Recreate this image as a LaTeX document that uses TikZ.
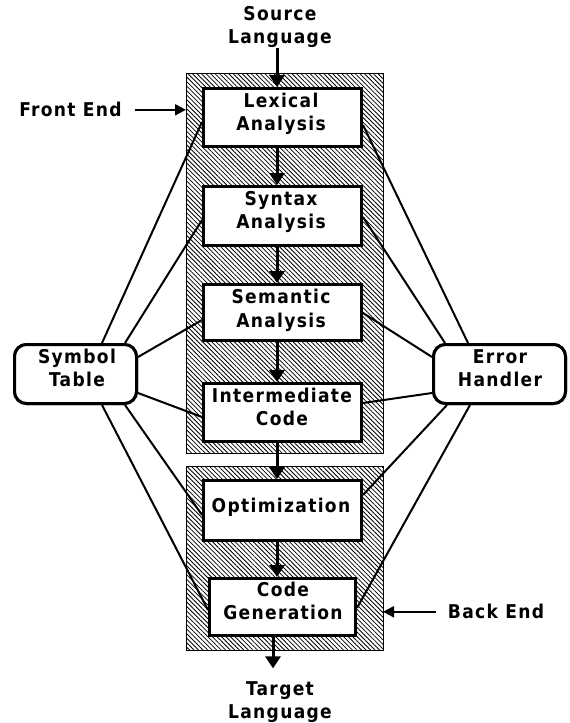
\documentclass[tikz,border=0pt]{standalone}
\usepackage{fontspec}
\newfontfamily\chicfont{DejaVu Sans Condensed}[LetterSpace=7]
\usetikzlibrary{arrows.meta,patterns.meta,calc}
\begin{document}
\begin{tikzpicture}[x=1pt,y=-1pt,
  lbl/.style={font=\chicfont\bfseries\fontsize{19}{23.5}\selectfont, align=center, inner sep=0pt},
  frame/.style={draw=black, line width=1pt, inner sep=0pt, outer sep=0pt,
    pattern={Lines[angle=-45,distance=3.2pt,line width=0.8pt]}},
  stage/.style={draw=black, line width=3pt, fill=white, inner sep=0pt, minimum width=158pt},
  tablebox/.style={draw=black, line width=3pt, fill=white, inner sep=0pt, rounded corners=12pt, minimum height=59pt},
  link/.style={draw=black, line width=2pt},
  flow/.style={draw=black, line width=3pt, -{Triangle[length=12pt,width=15pt]}},
  pointer/.style={draw=black, line width=2pt, -{Triangle[length=11pt,width=11pt]}}
]
\useasboundingbox (0,0) rectangle (570,723);
\fill[white] (0,0) rectangle (570,723);

% shaded phases
\node[frame, minimum width=197pt, minimum height=380pt] (fe) at (284.5,263) {};
\node[frame, minimum width=197pt, minimum height=184pt] (be) at (284.5,558) {};

% stage boxes
\node[stage, minimum height=58pt] (lex) at (282.5,117.5) {};
\node[stage, minimum height=59pt] (syn) at (282.5,216) {};
\node[stage, minimum height=56pt] (sem) at (282.5,312.5) {};
\node[stage, minimum height=58pt] (int) at (282.5,412.5) {};
\node[stage, minimum height=60pt] (opt) at (282.5,510.5) {};
\node[stage, minimum width=146pt, minimum height=57pt] (code) at (282.5,607) {};
\node[tablebox, minimum width=122pt] (sym) at (75.5,374) {};
\node[tablebox, minimum width=132pt] (err) at (499.5,374) {};

% connectors to symbol table
\draw[link] ($(sym.north)+(26.5,0)$) -- ($(lex.west)+(0,4.5)$);
\draw[link] ($(sym.north)+(49.5,0)$) -- ($(syn.west)+(0,4)$);
\draw[link] ($(sym.east)+(0,-17)$) -- ($(sem.west)+(0,7.5)$);
\draw[link] ($(sym.east)+(0,19)$) -- ($(int.west)+(0,4.5)$);
\draw[link] ($(sym.south)+(49.5,0)$) -- ($(opt.west)+(0,4.5)$);
\draw[link] ($(sym.south)+(26.5,0)$) -- ($(code.west)+(0,3)$);
% connectors to error handler
\draw[link] ($(err.north)+(-31.5,0)$) -- ($(lex.east)+(0,7.5)$);
\draw[link] ($(err.north)+(-54.5,0)$) -- ($(syn.east)+(0,1)$);
\draw[link] ($(err.west)+(0,-17)$) -- ($(sem.east)+(0,0.5)$);
\draw[link] ($(err.west)+(0,19)$) -- ($(int.east)+(0,-9.5)$);
\draw[link] ($(err.south)+(-52.5,0)$) -- ($(opt.east)+(0,-15.5)$);
\draw[link] ($(err.south)+(-29.5,0)$) -- ($(code.east)+(0,1)$);

% redraw boxes on top of connectors
\node[stage, minimum height=58pt] at (lex) {};
\node[stage, minimum height=59pt] at (syn) {};
\node[stage, minimum height=56pt] at (sem) {};
\node[stage, minimum height=58pt] at (int) {};
\node[stage, minimum height=60pt] at (opt) {};
\node[stage, minimum width=146pt, minimum height=57pt] at (code) {};
\node[tablebox, minimum width=122pt] at (sym) {};
\node[tablebox, minimum width=132pt] at (err) {};

% texts
\node[lbl] (lext) at (281,114) {Lexical\\Analysis};
\node[lbl] (synt) at (281,212.2) {Syntax\\Analysis};
\node[lbl] (semt) at (281,310.2) {Semantic\\Analysis};
\node[lbl] (intt) at (282,406.8) {Intermediate\\Code};
\node[lbl] (optt) at (281,507) {Optimization};
\node[lbl] (codet) at (283,600.8) {Code\\Generation};
\node[lbl] (symt) at (77,367.8) {Symbol\\Table};
\node[lbl] (errt) at (500,368) {Error\\Handler};
\node[lbl] (src) at (280,27.2) {Source\\Language};
\node[lbl] (tgt) at (280,702.3) {Target\\Language};
\node[lbl] (fel) at (70.5,109.8) {Front End};
\node[lbl] (bel) at (496,611.8) {Back End};

% flow arrows
\coordinate (sp) at (277,0);
\coordinate (sq) at (273,0);
\draw[flow] (src.south -| sp) -- (lex.north -| sp);
\draw[flow] (lex.south -| sp) -- (syn.north -| sp);
\draw[flow] (syn.south -| sp) -- (sem.north -| sp);
\draw[flow] (sem.south -| sp) -- (int.north -| sp);
\draw[flow] (int.south -| sp) -- (opt.north -| sp);
\draw[flow] (opt.south -| sp) -- (code.north -| sp);
\draw[flow, shorten >=13pt] (code.south -| sq) -- (tgt.north -| sq);

% phase pointers
\draw[pointer, shorten <=13pt] (fel.east) -- (fel.east -| fe.west);
\draw[pointer, shorten <=12pt] (bel.west) -- (bel.west -| be.east);
\end{tikzpicture}
\end{document}
